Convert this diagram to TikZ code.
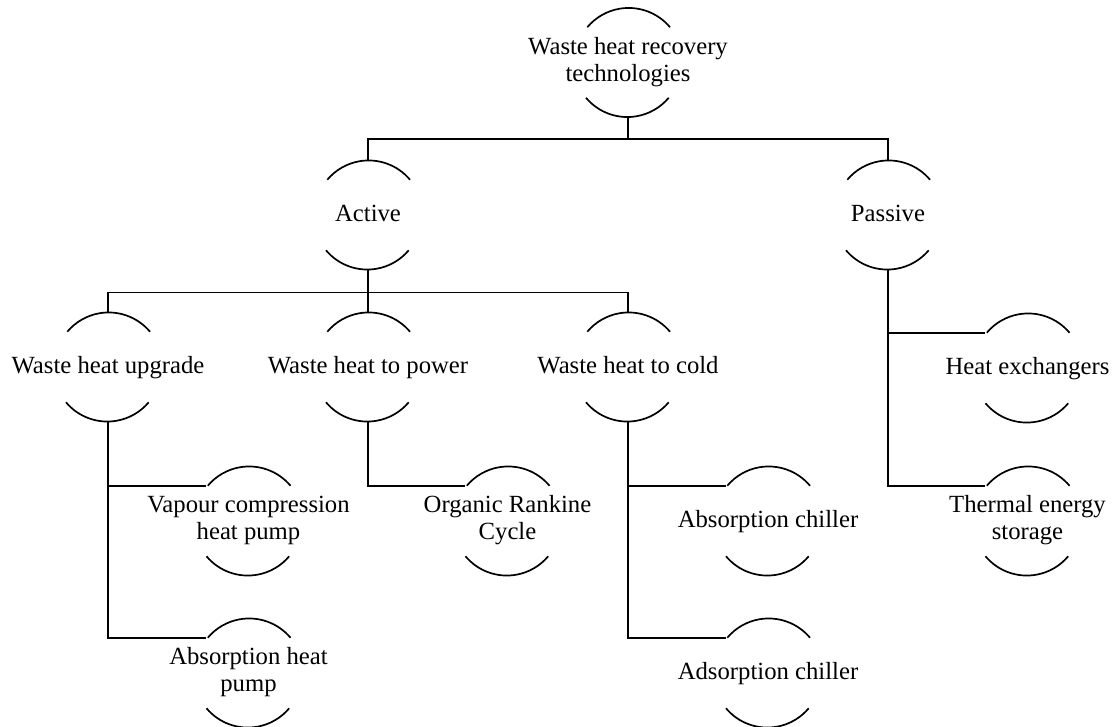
\documentclass[tikz,border=0pt]{standalone}
\usepackage{fontspec}
\setmainfont{Liberation Serif}
% strut giving every caption line the same height and depth
\newcommand\capstrut{\rule[-6.8pt]{0pt}{27pt}}
\begin{document}
\begin{tikzpicture}[x=1pt,y=1pt,
  line width=1.7pt, line join=miter,
  hub/.style={circle, minimum size=108pt, inner sep=0pt, draw=none,
    label={[caption]center:#1}},
  caption/.style={align=center, inner sep=0pt,
    font=\fontsize{24.7}{27}\selectfont,
    execute at begin node=\capstrut, execute at end node=\capstrut},
  link/.style={draw=black}
]
\useasboundingbox (0,0) rectangle (1113,-726);

% tree nodes (the arcs are drawn below)
\node[hub={Waste heat recovery\\technologies}] (root) at (628,-62.5) {};
\node[hub={Active}]  (active)  at (368,-215) {};
\node[hub={Passive}] (passive) at (888,-215) {};
\node[hub={Waste heat upgrade}]  (wup)   at (108,-367) {};
\node[hub={Waste heat to power}] (wpow)  at (368,-367) {};
\node[hub={Waste heat to cold}]  (wcold) at (628,-367) {};
\node[hub={Vapour compression\\heat pump}] (vch)  at (248.5,-521) {};
\node[hub={Absorption heat\\pump}]         (ahp)  at (248.5,-673) {};
\node[hub={Organic Rankine\\Cycle}]        (orc)  at (507.5,-521) {};
\node[hub={Absorption chiller}]            (ach)  at (768,-521) {};
\node[hub={Adsorption chiller}]            (adch) at (768,-673) {};
\node[hub={Heat exchangers}]               (hex)  at (1027.5,-368) {};
\node[hub={Thermal energy\\storage}]       (tes)  at (1027.5,-521) {};

% upper and lower arcs of each node
\foreach \n in {root,active,passive,wup,wpow,wcold,vch,ahp,orc,ach,adch,hex,tes}{
  \draw (\n.40) arc[start angle=40, end angle=140, radius=54pt];
  \draw (\n.220) arc[start angle=220, end angle=320, radius=54pt];
}

% connectors
\draw[link] (root.south) -- ++(0,-21.5) -| (active.north);
\draw[link] (root.south) -- ++(0,-21.5) -| (passive.north);
\draw[link] (active.south) -- ++(0,-22.7) -| (wup.north);
\draw[link] (active.south) -- ++(0,-22.7) -| (wcold.north);
\draw[link] (active.south) -- (wpow.north);
\draw[link] (wup.south) |- (vch.140);
\draw[link] (wup.south) |- (ahp.140);
\draw[link] (wpow.south) |- (orc.140);
\draw[link] (wcold.south) |- (ach.140);
\draw[link] (wcold.south) |- (adch.140);
\draw[link] (passive.south) |- (hex.140);
\draw[link] (passive.south) |- (tes.140);
\end{tikzpicture}
\end{document}
